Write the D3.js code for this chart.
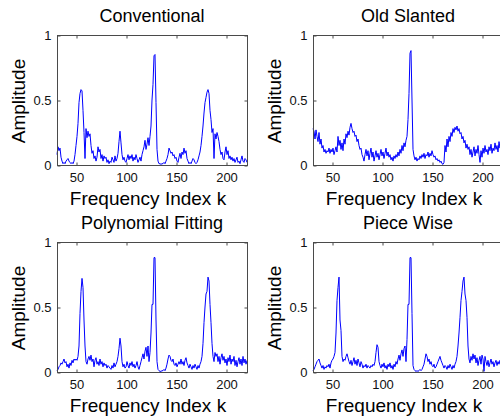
<!DOCTYPE html>
<html>
<head>
<meta charset="utf-8">
<script src="https://cdn.jsdelivr.net/npm/d3@7"></script>
<style>
  html, body { margin: 0; padding: 0; background: #fff; }
  svg { display: block; font-family: Arial, "Liberation Sans", Helvetica, sans-serif; }
</style>
</head>
<body>
<div id="figure"></div>
<script>
const width = 500,
      height = 418;

// Frequency index runs k = 31 .. 221 (one value per bin).
const kFirst = 31;

const titles = ["Conventional", "Old Slanted", "Polynomial Fitting", "Piece Wise"];
const xTicks = [50, 100, 150, 200];
const yTicks = [0, 0.5, 1];
const yTickLabels = ["0", "0.5", "1"];

const conventional = [
  0.08, 0.14, 0.11, 0.13, 0.06, 0.03, 0.01, 0.02, 0.01, 0.03,   // 31-40
  0.04, 0.05, 0.03, 0.02, 0.01, 0.02, 0.01, 0.03, 0.08, 0.15,   // 41-50
  0.22, 0.32, 0.48, 0.55, 0.58, 0.57, 0.42, 0.25, 0.05, 0.28,   // 51-60
  0.21, 0.26, 0.22, 0.24, 0.15, 0.09, 0.11, 0.05, 0.07, 0.03,   // 61-70
  0.06, 0.14, 0.10, 0.12, 0.05, 0.08, 0.03, 0.07, 0.05, 0.06,   // 71-80
  0.02, 0.04, 0.01, 0.03, 0.02, 0.06, 0.04, 0.02, 0.07, 0.03,   // 81-90
  0.05, 0.09, 0.18, 0.26, 0.17, 0.08, 0.04, 0.06, 0.03, 0.02,   // 91-100
  0.05, 0.08, 0.04, 0.07, 0.05, 0.08, 0.03, 0.06, 0.04, 0.08,   // 101-110
  0.05, 0.02, 0.04, 0.06, 0.03, 0.08, 0.11, 0.14, 0.19, 0.12,   // 111-120
  0.16, 0.21, 0.15, 0.22, 0.30, 0.50, 0.62, 0.84, 0.85, 0.48,   // 121-130
  0.12, 0.03, 0.01, 0.01, 0.005, 0.01, 0.01, 0.02, 0.01, 0.03,  // 131-140
  0.05, 0.08, 0.13, 0.11, 0.09, 0.10, 0.07, 0.08, 0.05, 0.06,   // 141-150
  0.03, 0.02, 0.06, 0.09, 0.05, 0.10, 0.08, 0.13, 0.09, 0.11,   // 151-160
  0.05, 0.03, 0.01, 0.02, 0.01, 0.03, 0.05, 0.04, 0.02, 0.01,   // 161-170
  0.02, 0.04, 0.07, 0.10, 0.15, 0.22, 0.30, 0.40, 0.48, 0.52,   // 171-180
  0.56, 0.58, 0.55, 0.42, 0.35, 0.25, 0.28, 0.05, 0.24, 0.20,   // 181-190
  0.25, 0.22, 0.18, 0.12, 0.08, 0.10, 0.05, 0.04, 0.10, 0.14,   // 191-200
  0.08, 0.11, 0.05, 0.07, 0.04, 0.06, 0.03, 0.05, 0.02, 0.04,   // 201-210
  0.06, 0.02, 0.03, 0.01, 0.04, 0.07, 0.03, 0.02, 0.05, 0.04,   // 211-220
  0.02                                                          // 221
];

const oldSlanted = [
  0.28, 0.26, 0.20, 0.27, 0.22, 0.18, 0.25, 0.16, 0.20, 0.13,   // 31-40
  0.15, 0.10, 0.12, 0.09, 0.11, 0.10, 0.13, 0.09, 0.12, 0.10,   // 41-50
  0.13, 0.08, 0.11, 0.14, 0.10, 0.22, 0.15, 0.19, 0.12, 0.17,   // 51-60
  0.11, 0.20, 0.16, 0.24, 0.21, 0.26, 0.23, 0.29, 0.32, 0.28,   // 61-70
  0.25, 0.26, 0.22, 0.23, 0.18, 0.20, 0.15, 0.12, 0.13, 0.08,   // 71-80
  0.06, 0.03, 0.08, 0.12, 0.07, 0.11, 0.04, 0.09, 0.13, 0.06,   // 81-90
  0.10, 0.03, 0.07, 0.11, 0.06, 0.09, 0.04, 0.08, 0.12, 0.07,   // 91-100
  0.10, 0.05, 0.09, 0.13, 0.07, 0.10, 0.06, 0.08, 0.04, 0.06,   // 101-110
  0.03, 0.07, 0.05, 0.08, 0.06, 0.10, 0.07, 0.12, 0.09, 0.15,   // 111-120
  0.11, 0.17, 0.14, 0.19, 0.22, 0.35, 0.55, 0.86, 0.88, 0.50,   // 121-130
  0.12, 0.07, 0.04, 0.06, 0.03, 0.05, 0.04, 0.07, 0.05, 0.08,   // 131-140
  0.06, 0.09, 0.05, 0.08, 0.07, 0.10, 0.06, 0.09, 0.07, 0.11,   // 141-150
  0.08, 0.06, 0.07, 0.04, 0.05, 0.03, 0.04, 0.02, 0.03, 0.01,   // 151-160
  0.005, 0.02, 0.15, 0.10, 0.20, 0.14, 0.22, 0.18, 0.25, 0.22,  // 161-170
  0.28, 0.25, 0.29, 0.27, 0.30, 0.26, 0.28, 0.24, 0.25, 0.20,   // 171-180
  0.22, 0.17, 0.19, 0.13, 0.16, 0.12, 0.14, 0.08, 0.12, 0.06,   // 181-190
  0.10, 0.14, 0.07, 0.12, 0.09, 0.15, 0.08, 0.02, 0.11, 0.06,   // 191-200
  0.13, 0.09, 0.15, 0.10, 0.12, 0.08, 0.14, 0.11, 0.16, 0.09,   // 201-210
  0.13, 0.11, 0.17, 0.12, 0.15, 0.10, 0.18, 0.13, 0.20, 0.16,   // 211-220
  0.19                                                          // 221
];

const polynomialFitting = [
  0.01, 0.02, 0.04, 0.05, 0.07, 0.06, 0.08, 0.10, 0.07, 0.08,   // 31-40
  0.04, 0.06, 0.03, 0.07, 0.05, 0.09, 0.07, 0.10, 0.09, 0.10,   // 41-50
  0.09, 0.12, 0.20, 0.45, 0.62, 0.72, 0.65, 0.40, 0.20, 0.08,   // 51-60
  0.06, 0.10, 0.12, 0.09, 0.13, 0.08, 0.10, 0.04, 0.09, 0.11,   // 61-70
  0.06, 0.08, 0.05, 0.10, 0.06, 0.08, 0.04, 0.07, 0.05, 0.06,   // 71-80
  0.03, 0.05, 0.04, 0.03, 0.02, 0.05, 0.03, 0.07, 0.04, 0.06,   // 81-90
  0.08, 0.12, 0.18, 0.26, 0.20, 0.08, 0.04, 0.06, 0.03, 0.04,   // 91-100
  0.08, 0.05, 0.03, 0.07, 0.05, 0.08, 0.04, 0.06, 0.03, 0.05,   // 101-110
  0.08, 0.04, 0.02, 0.05, 0.08, 0.11, 0.14, 0.10, 0.16, 0.19,   // 111-120
  0.12, 0.20, 0.08, 0.15, 0.30, 0.52, 0.52, 0.88, 0.88, 0.40,   // 121-130
  0.08, 0.02, 0.01, 0.005, 0.005, 0.01, 0.01, 0.02, 0.01, 0.03, // 131-140
  0.06, 0.10, 0.13, 0.12, 0.09, 0.08, 0.10, 0.06, 0.05, 0.07,   // 141-150
  0.04, 0.06, 0.08, 0.06, 0.10, 0.06, 0.08, 0.05, 0.09, 0.11,   // 151-160
  0.07, 0.05, 0.03, 0.06, 0.04, 0.02, 0.05, 0.03, 0.06, 0.04,   // 161-170
  0.02, 0.05, 0.03, 0.06, 0.08, 0.12, 0.22, 0.38, 0.50, 0.60,   // 171-180
  0.62, 0.73, 0.70, 0.52, 0.38, 0.22, 0.12, 0.08, 0.15, 0.12,   // 181-190
  0.14, 0.08, 0.12, 0.06, 0.11, 0.14, 0.09, 0.12, 0.07, 0.10,   // 191-200
  0.05, 0.11, 0.08, 0.13, 0.06, 0.10, 0.08, 0.12, 0.05, 0.09,   // 201-210
  0.04, 0.08, 0.11, 0.06, 0.10, 0.05, 0.12, 0.07, 0.10, 0.06,   // 211-220
  0.09                                                          // 221
];

const pieceWise = [
  0.01, 0.02, 0.04, 0.06, 0.08, 0.09, 0.10, 0.07, 0.05, 0.03,   // 31-40
  0.05, 0.02, 0.04, 0.03, 0.05, 0.04, 0.06, 0.03, 0.07, 0.09,   // 41-50
  0.10, 0.12, 0.15, 0.30, 0.55, 0.65, 0.73, 0.40, 0.32, 0.12,   // 51-60
  0.08, 0.10, 0.09, 0.12, 0.14, 0.11, 0.08, 0.06, 0.09, 0.05,   // 61-70
  0.08, 0.11, 0.06, 0.09, 0.05, 0.10, 0.07, 0.04, 0.08, 0.06,   // 71-80
  0.03, 0.05, 0.04, 0.06, 0.03, 0.05, 0.04, 0.03, 0.05, 0.04,   // 81-90
  0.06, 0.05, 0.08, 0.15, 0.21, 0.19, 0.08, 0.05, 0.03, 0.06,   // 91-100
  0.04, 0.07, 0.03, 0.05, 0.02, 0.06, 0.04, 0.07, 0.03, 0.05,   // 101-110
  0.02, 0.06, 0.04, 0.08, 0.06, 0.10, 0.13, 0.09, 0.14, 0.17,   // 111-120
  0.12, 0.18, 0.20, 0.08, 0.25, 0.52, 0.52, 0.88, 0.88, 0.45,   // 121-130
  0.05, 0.02, 0.01, 0.005, 0.01, 0.005, 0.01, 0.02, 0.01, 0.02, // 131-140
  0.04, 0.06, 0.10, 0.14, 0.12, 0.08, 0.10, 0.06, 0.08, 0.05,   // 141-150
  0.04, 0.06, 0.03, 0.04, 0.06, 0.08, 0.10, 0.12, 0.09, 0.07,   // 151-160
  0.05, 0.03, 0.05, 0.04, 0.02, 0.05, 0.03, 0.06, 0.04, 0.02,   // 161-170
  0.05, 0.03, 0.06, 0.08, 0.12, 0.20, 0.30, 0.42, 0.55, 0.62,   // 171-180
  0.70, 0.73, 0.60, 0.55, 0.42, 0.20, 0.10, 0.07, 0.12, 0.09,   // 181-190
  0.14, 0.10, 0.13, 0.07, 0.11, 0.05, 0.09, 0.12, 0.06, 0.13,   // 191-200
  0.10, 0.005, 0.12, 0.08, 0.05, 0.09, 0.04, 0.07, 0.10, 0.06,  // 201-210
  0.08, 0.04, 0.07, 0.09, 0.05, 0.08, 0.06, 0.09, 0.05, 0.07,   // 211-220
  0.06                                                          // 221
];

const series = [conventional, oldSlanted, polynomialFitting, pieceWise];

// Axes boxes (left, top) for the 2x2 grid; the right column runs past the page edge.
const plotW = 190, plotH = 130;
const cols = [57, 313];
const rows = [35, 242];

const axisColor = "#4a4a4a";
const lineColor = "#0000ff";

const svg = d3.select("#figure").append("svg")
    .attr("width", width)
    .attr("height", height);

svg.append("rect")
    .attr("width", width)
    .attr("height", height)
    .attr("fill", "#fff");

series.forEach((values, i) => {
    const left = cols[i % 2],
          top = rows[Math.floor(i / 2)];

    const xscale = d3.scaleLinear()
        .domain([kFirst, kFirst + plotW])
        .range([left, left + plotW]);

    const yscale = d3.scaleLinear()
        .domain([0, 1])
        .range([top + plotH, top]);

    const g = svg.append("g");

    // Data line.
    const line = d3.line()
        .x((d, j) => xscale(kFirst + j))
        .y(d => yscale(d));

    g.append("path")
        .datum(values)
        .attr("fill", "none")
        .attr("stroke", lineColor)
        .attr("stroke-width", 1)
        .attr("stroke-linejoin", "round")
        .attr("d", line);

    // Box.
    g.append("rect")
        .attr("x", left + 0.5)
        .attr("y", top + 0.5)
        .attr("width", plotW)
        .attr("height", plotH)
        .attr("fill", "none")
        .attr("stroke", axisColor)
        .attr("stroke-width", 1);

    // Inward ticks, MATLAB style, on all four sides.
    g.append("g")
        .attr("transform", `translate(0.5,${top + plotH + 0.5})`)
        .call(d3.axisBottom(xscale).tickValues(xTicks).tickSizeInner(-3).tickSizeOuter(0).tickPadding(7))
        .call(s => s.select(".domain").remove())
        .call(s => s.selectAll("line").attr("stroke", axisColor))
        .call(s => s.selectAll("text")
            .attr("fill", "#111")
            .attr("font-size", 13)
            .attr("font-family", null));

    g.append("g")
        .attr("transform", `translate(0.5,${top + 0.5})`)
        .call(d3.axisTop(xscale).tickValues(xTicks).tickSizeInner(-3).tickSizeOuter(0))
        .call(s => s.select(".domain").remove())
        .call(s => s.selectAll("text").remove())
        .call(s => s.selectAll("line").attr("stroke", axisColor));

    g.append("g")
        .attr("transform", `translate(${left + 0.5},0.5)`)
        .call(d3.axisLeft(yscale).tickValues(yTicks).tickFormat((d, j) => yTickLabels[j])
            .tickSizeInner(-3).tickSizeOuter(0).tickPadding(6))
        .call(s => s.select(".domain").remove())
        .call(s => s.selectAll("line").attr("stroke", axisColor))
        .call(s => s.selectAll("text")
            .attr("fill", "#111")
            .attr("font-size", 13)
            .attr("font-family", null));

    g.append("g")
        .attr("transform", `translate(${left + plotW + 0.5},0.5)`)
        .call(d3.axisRight(yscale).tickValues(yTicks).tickSizeInner(-3).tickSizeOuter(0))
        .call(s => s.select(".domain").remove())
        .call(s => s.selectAll("text").remove())
        .call(s => s.selectAll("line").attr("stroke", axisColor));

    // Title and axis labels.
    const cx = left + plotW / 2;

    g.append("text")
        .attr("x", cx)
        .attr("y", top - 13)
        .attr("text-anchor", "middle")
        .attr("font-size", 18)
        .attr("fill", "#000")
        .text(titles[i]);

    g.append("text")
        .attr("x", cx - 4)
        .attr("y", top + plotH + 40)
        .attr("text-anchor", "middle")
        .attr("font-size", 19)
        .attr("fill", "#000")
        .text("Frequency Index k");

    g.append("text")
        .attr("transform", `translate(${left - 32},${top + plotH / 2 + 1}) rotate(-90)`)
        .attr("text-anchor", "middle")
        .attr("font-size", 19)
        .attr("fill", "#000")
        .text("Amplitude");
});
</script>
</body>
</html>
